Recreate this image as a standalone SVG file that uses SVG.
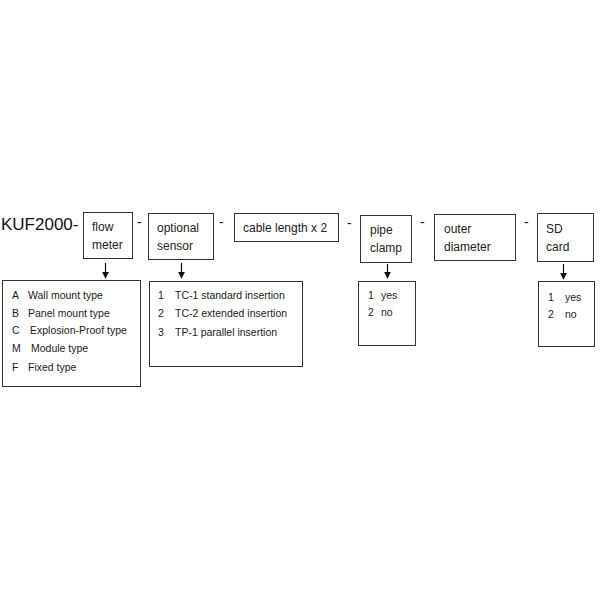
<svg xmlns="http://www.w3.org/2000/svg" width="600" height="600" viewBox="0 0 600 600">
<defs>
<marker id="ah" viewBox="0 0 10 10" refX="9" refY="5" markerWidth="7" markerHeight="7" markerUnits="userSpaceOnUse" orient="auto">
<path d="M0,0 L10,5 L0,10 z" fill="#111"/>
</marker>
<style>
.box{fill:#fff;stroke:#333;stroke-width:1}
.lbl{font-family:"Liberation Sans",Arial,sans-serif;font-size:12px;fill:#222}
.itm{font-family:"Liberation Sans",Arial,sans-serif;font-size:10.5px;fill:#222}
.dash{font-family:"Liberation Sans",Arial,sans-serif;font-size:14px;fill:#222}
.con{stroke:#111;stroke-width:1.2;fill:none;marker-end:url(#ah)}
</style>
</defs>
<rect width="600" height="600" fill="#fff"/>
<text x="1" y="230" font-family="Liberation Sans,Arial,sans-serif" font-size="17" fill="#111">KUF2000-</text>
<g id="flow-meter">
<rect class="box" x="83.5" y="212.5" width="49" height="46"/>
<text class="lbl" x="92" y="231">flow</text>
<text class="lbl" x="92" y="249">meter</text>
</g>
<text class="dash" x="137" y="227">-</text>
<g id="optional-sensor">
<rect class="box" x="148.5" y="213.5" width="65" height="46"/>
<text class="lbl" x="157" y="232">optional</text>
<text class="lbl" x="157" y="250">sensor</text>
</g>
<text class="dash" x="219" y="227">-</text>
<g id="cable-length">
<rect class="box" x="234.5" y="213.5" width="104" height="28"/>
<text class="lbl" x="243" y="232">cable length x 2</text>
</g>
<text class="dash" x="347" y="228">-</text>
<g id="pipe-clamp">
<rect class="box" x="360.5" y="215.5" width="51" height="47"/>
<text class="lbl" x="370" y="234">pipe</text>
<text class="lbl" x="370" y="252">clamp</text>
</g>
<text class="dash" x="420" y="227">-</text>
<g id="outer-diameter">
<rect class="box" x="434.5" y="214.5" width="81" height="46"/>
<text class="lbl" x="444" y="233">outer</text>
<text class="lbl" x="444" y="251">diameter</text>
</g>
<text class="dash" x="524" y="227">-</text>
<g id="sd-card">
<rect class="box" x="537.5" y="213.5" width="56" height="48"/>
<text class="lbl" x="546" y="233">SD</text>
<text class="lbl" x="546" y="251">card</text>
</g>
<g id="flow-meter-options">
<rect class="box" x="2.5" y="280.5" width="138" height="106"/>
<text class="itm" x="12" y="299">A</text><text class="itm" x="28" y="299">Wall mount type</text>
<text class="itm" x="12" y="317">B</text><text class="itm" x="28" y="317">Panel mount type</text>
<text class="itm" x="12" y="334">C</text><text class="itm" x="30" y="334">Explosion-Proof type</text>
<text class="itm" x="12" y="352">M</text><text class="itm" x="31" y="352">Module type</text>
<text class="itm" x="12" y="371">F</text><text class="itm" x="28" y="371">Fixed type</text>
</g>
<g id="sensor-options">
<rect class="box" x="149.5" y="281.5" width="153" height="85"/>
<text class="itm" x="158" y="299">1</text><text class="itm" x="175" y="299">TC-1 standard insertion</text>
<text class="itm" x="158" y="317">2</text><text class="itm" x="175" y="317">TC-2 extended insertion</text>
<text class="itm" x="158" y="336">3</text><text class="itm" x="175" y="336">TP-1 parallel insertion</text>
</g>
<g id="pipe-clamp-options">
<rect class="box" x="358.5" y="281.5" width="57" height="64"/>
<text class="itm" x="368" y="299">1</text><text class="itm" x="381" y="299">yes</text>
<text class="itm" x="368" y="316">2</text><text class="itm" x="381" y="316">no</text>
</g>
<g id="sd-card-options">
<rect class="box" x="538.5" y="281.5" width="56" height="65"/>
<text class="itm" x="548" y="301">1</text><text class="itm" x="565" y="301">yes</text>
<text class="itm" x="548" y="318">2</text><text class="itm" x="565" y="318">no</text>
</g>
<g id="connectors">
<line class="con" x1="105.5" y1="263" x2="105.5" y2="278"/>
<line class="con" x1="181.5" y1="263" x2="181.5" y2="278"/>
<line class="con" x1="387.5" y1="264" x2="387.5" y2="278"/>
<line class="con" x1="563.5" y1="264" x2="563.5" y2="279"/>
</g>
</svg>
